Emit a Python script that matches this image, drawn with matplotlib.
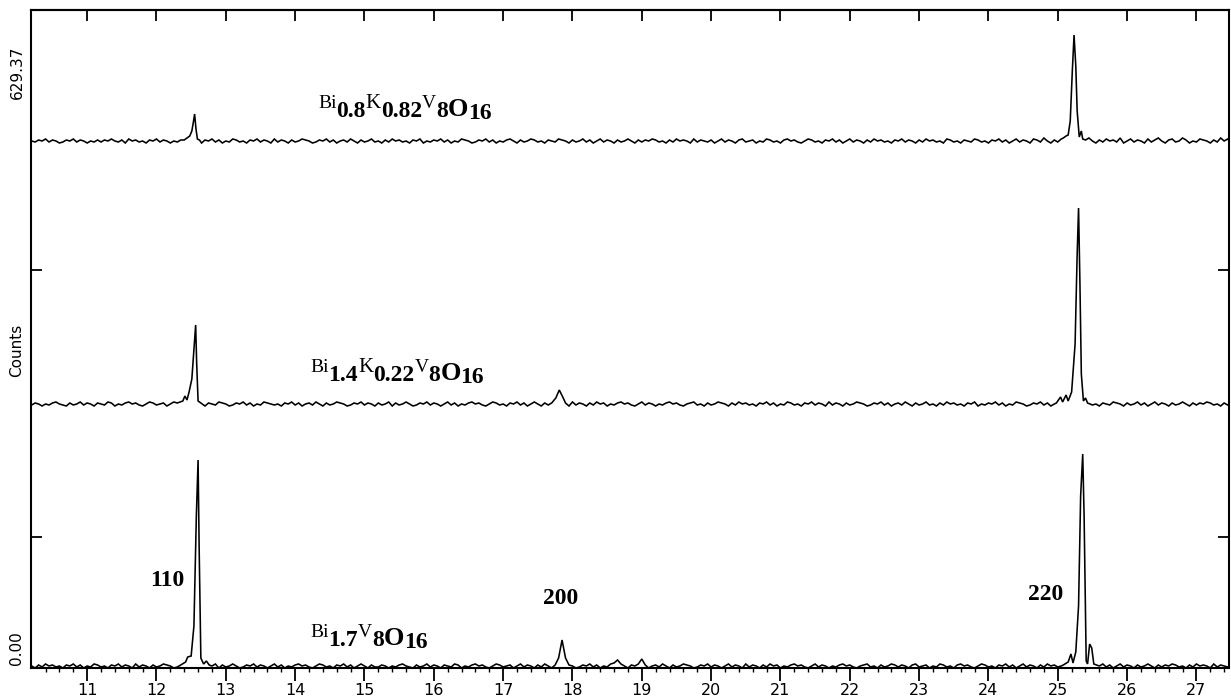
import numpy as np
import matplotlib
matplotlib.use("Agg")
import matplotlib.pyplot as plt
from matplotlib.transforms import IdentityTransform

# ---------------- data ----------------
x_start = 10.2          # 2-theta of first baseline sample
x_step = 0.05           # baseline sample spacing
noise_zero = 2.0        # digit value that sits on the baseline

# baseline wiggle (counts, digits 0..5) for each pattern
noise_top = ("2132413201" "3241320213" "1324213042" "3120324132" "0213423120"
             "3241302143" "1203241320" "4132031243" "2013241302" "3142031241"
             "2031423120" "3240213241" "3021432013" "2413021342" "0312431203"
             "2143203124" "1302413203" "1242031324" "3120314232" "0413213024"
             "1320341230" "2143120342" "3102431203" "2413024132" "0314231203"
             "2413203142" "3120431203" "2143120324" "1302413204" "3152031432"
             "0241352031" "4231502413" "2041352034" "1253021432" "0315240213")
noise_mid = ("1320213421" "0312413203" "2143021342" "3102431230" "2413203142"
             "0321432013" "2413021432" "1203241302" "3142031243" "2013241320"
             "3124031242" "0132413202" "4130213423" "1024312032" "4130242031"
             "2413204132" "0314230213" "4231024132" "0213423102" "3412031243"
             "2031423120" "3241302143" "1203241320" "4132031243" "2013241302"
             "3142031241" "2031423120" "3240213241" "3021432013" "2413021342"
             "0312431203" "2143203124" "1302413203" "1242031324" "3120314232")
noise_bot = ("2031423120" "3241302143" "1203241320" "4132031243" "2013241302"
             "3124031242" "0132413202" "4130213423" "1024312032" "4130242031"
             "1320213421" "0312413203" "2143021342" "3102431230" "2413203142"
             "0321432013" "2413021432" "1203241302" "3142031243" "2013241320"
             "2413204132" "0314230213" "4231024132" "0213423102" "3412031243"
             "1320341230" "2143120342" "3102431203" "2413024132" "0314231203"
             "2143203124" "1302413203" "1242031324" "3120314232" "0413213024")

# peak profiles: (2-theta, counts above baseline)
peaks_top = [
    [(12.40, 1), (12.48, 5), (12.51, 10), (12.53, 18), (12.55, 27), (12.57, 12), (12.59, 2), (12.62, 1)],
    [(25.08, 3), (25.12, 5), (25.15, 6), (25.18, 20), (25.21, 70), (25.235, 106), (25.26, 75),
     (25.28, 30), (25.31, 4), (25.34, 10), (25.36, 2)],
]
peaks_mid = [
    [(12.30, 1), (12.38, 3), (12.41, 8), (12.44, 4), (12.47, 12), (12.51, 25), (12.545, 60),
     (12.565, 79), (12.58, 40), (12.60, 3), (12.64, 1)],
    [(17.70, 1), (17.76, 6), (17.81, 14), (17.86, 7), (17.90, 1)],
    [(24.98, 1), (25.04, 7), (25.07, 2), (25.12, 9), (25.15, 3), (25.20, 12), (25.25, 60),
     (25.28, 150), (25.30, 196), (25.32, 120), (25.34, 30), (25.37, 3), (25.40, 6), (25.43, 1)],
]
peaks_bot = [
    [(12.35, 1), (12.42, 4), (12.45, 9), (12.50, 10), (12.54, 40), (12.575, 150), (12.60, 206),
     (12.615, 120), (12.64, 8), (12.68, 2), (12.72, 5), (12.76, 1)],
    [(17.75, 1), (17.80, 8), (17.85, 26), (17.90, 8), (17.95, 1)],
    [(18.60, 3), (18.65, 6), (18.70, 2)],
    [(18.95, 2), (19.00, 7), (19.05, 1)],
    [(25.08, 1), (25.15, 4), (25.19, 12), (25.22, 3), (25.26, 14), (25.30, 60), (25.33, 170),
     (25.36, 212), (25.38, 150), (25.41, 5), (25.43, 2), (25.46, 22), (25.49, 18), (25.52, 2),
     (25.56, 1)],
]
offsets = [527, 264, 2]   # vertical offset of each pattern

# formula labels: pieces of (text, size, weight, baseline shift in px)
label_top = [("Bi", 14, "normal", 0), ("0.8", 17, "bold", -9), ("K", 15, "normal", 0),
             ("0.82", 17, "bold", -9), ("V", 14, "normal", 0), ("8", 17, "bold", -9),
             ("O", 19, "bold", -8), ("16", 17, "bold", -11)]
label_mid = [("Bi", 14, "normal", 0), ("1.4", 17, "bold", -9), ("K", 15, "normal", 0),
             ("0.22", 17, "bold", -9), ("V", 14, "normal", 0), ("8", 17, "bold", -9),
             ("O", 19, "bold", -8), ("16", 17, "bold", -11)]
label_bot = [("Bi", 14, "normal", 0), ("1.7", 17, "bold", -9), ("V", 14, "normal", 0),
             ("8", 17, "bold", -9), ("O", 19, "bold", -8), ("16", 17, "bold", -11)]
label_px = [(318, 108), (310, 372), (310, 637)]   # left / baseline, pixels from top-left

hkl = ['110', '200', '220']
hkl_pos = [(12.15, 87), (17.83, 69), (24.82, 74)]

xticks = list(range(11, 28))

W, H = 1231, 698


def build(noise, peaks, off):
    vals = np.array([int(c) for c in noise], dtype=float) - noise_zero
    xs = x_start + x_step * np.arange(len(vals))
    keep = np.ones(len(xs), bool)
    for p in peaks:
        lo, hi = p[0][0], p[-1][0]
        keep &= ~((xs >= lo - 0.02) & (xs <= hi + 0.02))
    px = list(xs[keep])
    py = list(vals[keep])
    for p in peaks:
        for a, b in p:
            px.append(a)
            py.append(b)
    order = np.argsort(px)
    return np.array(px)[order], np.array(py)[order] + off


fig = plt.figure(figsize=(W / 100, H / 100), dpi=100)
ax = fig.add_axes([31 / W, 30 / H, 1198 / W, 658 / H])

for noise, peaks, off in zip([noise_top, noise_mid, noise_bot],
                             [peaks_top, peaks_mid, peaks_bot], offsets):
    xx, yy = build(noise, peaks, off)
    ax.plot(xx, yy, color='black', lw=1.15, solid_joinstyle='miter')

ax.set_xlim(10.19, 27.47)
ax.set_ylim(0, 658)

ax.set_xticks(xticks)
ax.set_xticklabels([str(t) for t in xticks], fontsize=11.5)
ax.set_xticks(np.arange(10.4, 27.5, 0.2), minor=True)
ax.tick_params(axis='x', which='major', direction='out', length=9, width=1.3, pad=2,
               top=False, bottom=True)
ax.tick_params(axis='x', which='minor', direction='out', length=3, width=1.0, top=False)

ax.set_yticks([131, 398])
ax.set_yticklabels([])
ax.tick_params(axis='y', which='major', direction='in', length=8, width=1.3,
               left=True, right=True)

sec = ax.secondary_xaxis('top')
sec.set_xticks(xticks)
sec.set_xticklabels([])
sec.tick_params(direction='in', length=8, width=1.3)
sec.spines['top'].set_linewidth(1.5)

for s in ax.spines.values():
    s.set_linewidth(1.5)

renderer = fig.canvas.get_renderer()
for pieces, (lx, ly) in zip([label_top, label_mid, label_bot], label_px):
    xp = lx
    yb = H - ly
    for txt, size, weight, dy in pieces:
        t = fig.text(xp, yb + dy, txt, fontsize=size, fontweight=weight,
                     fontfamily='Liberation Serif', ha='left', va='baseline',
                     transform=IdentityTransform())
        bb = t.get_window_extent(renderer)
        xp = bb.x1

for lab, (lx, ly) in zip(hkl, hkl_pos):
    ax.text(lx, ly, lab, fontsize=17, ha='center', va='center',
            fontfamily='Liberation Serif', fontweight='bold')

fig.text(17 / W, 1 - 72 / H, '629.37', rotation=90, ha='center', va='center', fontsize=11)
fig.text(17 / W, 1 - 350 / H, 'Counts', rotation=90, ha='center', va='center', fontsize=11)
fig.text(17 / W, 1 - 648 / H, '0.00', rotation=90, ha='center', va='center', fontsize=11)

fig.savefig('out.png', dpi=100)
